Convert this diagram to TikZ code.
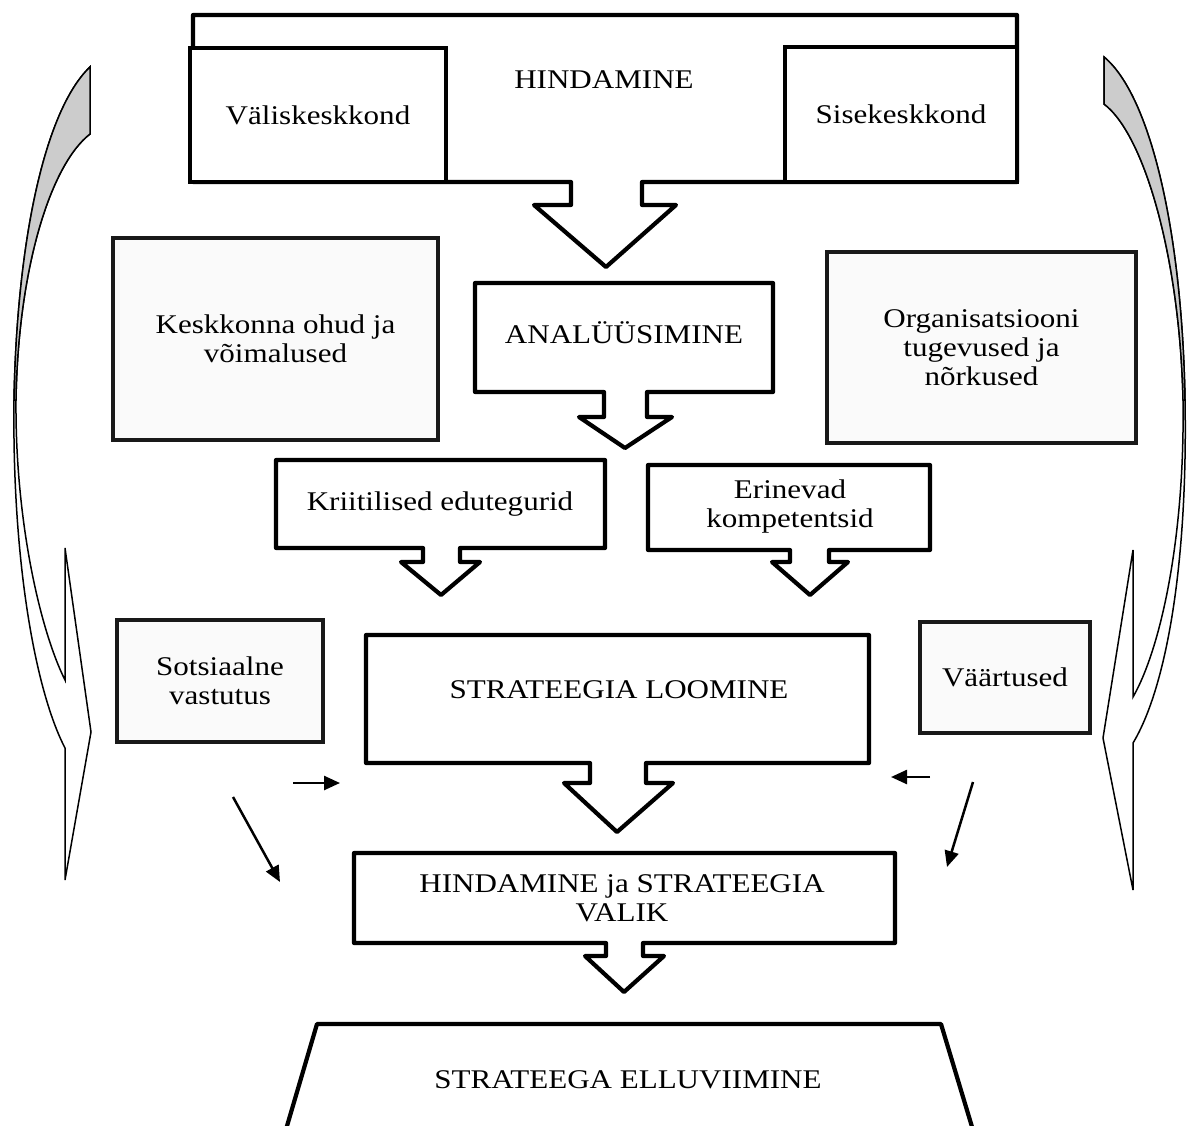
\documentclass[tikz,border=0pt]{standalone}
\usepackage{fontspec}
\setmainfont{Liberation Serif}[FakeStretch=1.15]
\usetikzlibrary{arrows.meta}
\begin{document}
\begin{tikzpicture}[x=1pt,y=-1pt,
  frame/.style={draw=black, line width=4.2pt, fill=white, line join=round},
  whitebox/.style={draw=black, line width=4.2pt, fill=white, align=center, inner sep=0pt,
    font=\fontsize{27}{29}\selectfont},
  softbox/.style={draw=black!90, line width=4.2pt, fill=black!2, align=center, inner sep=0pt,
    font=\fontsize{27}{29}\selectfont},
  lbl/.style={align=center, inner sep=0pt, font=\fontsize{27}{29}\selectfont},
  band/.style={draw=black, line width=1.5pt, fill=white, line join=miter},
  shade/.style={draw=black, line width=1.5pt, fill=black!20},
  pointer/.style={line width=2.5pt, -{Triangle[length=16pt,width=14pt]}}
]
\clip (0,0) rectangle (1194,1126);
\fill[white] (0,0) rectangle (1194,1126);

% ---------- left curved arrow ----------
\draw[band] (65,680) -- (65,548) -- (91,732) -- (65,880) -- (65,748)
  .. controls (35,690) and (12,560) .. (14,400)
  .. controls (17,240) and (45,110) .. (90,67)
  -- (90,134)
  .. controls (50,165) and (18,270) .. (16,400)
  .. controls (15,520) and (40,630) .. (65,680) -- cycle;
\draw[shade] (90,67) .. controls (45,110) and (17,240) .. (14,400)
  -- (16,400) .. controls (18,270) and (50,165) .. (90,134) -- cycle;

% ---------- right curved arrow ----------
\draw[band] (1133,697) -- (1133,550) -- (1103,738) -- (1133,890) -- (1133,743)
  .. controls (1165,690) and (1188,570) .. (1185,400)
  .. controls (1182,230) and (1150,95) .. (1104,57)
  -- (1104,104)
  .. controls (1145,135) and (1180,260) .. (1183,400)
  .. controls (1185,540) and (1160,650) .. (1133,697) -- cycle;
\draw[shade] (1104,57) .. controls (1150,95) and (1182,230) .. (1185,400)
  -- (1183,400) .. controls (1180,260) and (1145,135) .. (1104,104) -- cycle;

% ---------- HINDAMINE frame ----------
\draw[frame] (193,15) -- (1017,15) -- (1017,182) -- (642,182) -- (642,205) -- (676,205)
  -- (606,267) -- (534,205) -- (571,205) -- (571,182) -- (193,182) -- cycle;
\node[lbl] (hind) at (604,80) {HINDAMINE};
\node[whitebox, minimum width=256pt, minimum height=134pt] (valis) at (318,115) {Väliskeskkond};
\node[whitebox, minimum width=232pt, minimum height=135pt] (sise) at (901,114.5) {Sisekeskkond};

% ---------- side boxes ----------
\node[softbox, minimum width=325pt, minimum height=202pt] (kesk) at (275.5,339)
  {Keskkonna ohud ja\\võimalused};
\node[softbox, minimum width=309pt, minimum height=191pt] (org) at (981.5,347.5)
  {Organisatsiooni\\tugevused ja\\nõrkused};

% ---------- ANALÜÜSIMINE ----------
\draw[frame] (475,283) -- (773,283) -- (773,392) -- (647,392) -- (647,417) -- (672,417)
  -- (625,448) -- (579,417) -- (604,417) -- (604,392) -- (475,392) -- cycle;
\node[lbl] (ana) at (624,333) {ANALÜÜSIMINE};

% ---------- Kriitilised / Erinevad ----------
\draw[frame] (276,460) -- (605,460) -- (605,548) -- (460,548) -- (460,562) -- (480,562)
  -- (441,595) -- (401,562) -- (423,562) -- (423,548) -- (276,548) -- cycle;
\node[lbl] (krit) at (440,504) {Kriitilised edutegurid};
\draw[frame] (648,465) -- (930,465) -- (930,550) -- (829,550) -- (829,562) -- (848,562)
  -- (810,595) -- (772,562) -- (790,562) -- (790,550) -- (648,550) -- cycle;
\node[lbl] (erin) at (790,507) {Erinevad\\kompetentsid};

% ---------- Sotsiaalne / Väärtused ----------
\node[softbox, minimum width=206pt, minimum height=122pt] (sots) at (220,681)
  {Sotsiaalne\\vastutus};
\node[softbox, minimum width=170pt, minimum height=111pt] (vaar) at (1005,677.5) {Väärtused};

% ---------- STRATEEGIA LOOMINE ----------
\draw[frame] (366,635) -- (869,635) -- (869,763) -- (646,763) -- (646,783) -- (673,783)
  -- (617,832) -- (564,783) -- (590,783) -- (590,763) -- (366,763) -- cycle;
\node[lbl] (loom) at (619,690) {STRATEEGIA LOOMINE};

% ---------- HINDAMINE ja STRATEEGIA VALIK ----------
\draw[frame] (354,853) -- (895,853) -- (895,943) -- (643,943) -- (643,956) -- (664,956)
  -- (624,992) -- (585,956) -- (606,956) -- (606,943) -- (354,943) -- cycle;
\node[lbl] (valik) at (622,898) {HINDAMINE ja STRATEEGIA\\VALIK};

% ---------- STRATEEGA ELLUVIIMINE ----------
\draw[frame, fill=none] (277,1160) -- (317,1024) -- (941,1024) -- (982,1160);
\node[lbl] (ellu) at (628,1080) {STRATEEGA ELLUVIIMINE};

% ---------- small arrows ----------
\coordinate (la1) at (293,783); \coordinate (la2) at (340,783);
\coordinate (lb1) at (233,797); \coordinate (lb2) at (280,882);
\coordinate (ra1) at (930,777); \coordinate (ra2) at (891,777);
\coordinate (rb1) at (973,782); \coordinate (rb2) at (947,867);
\draw[pointer] (la1) -- (la2);
\draw[pointer] (lb1) -- (lb2);
\draw[pointer] (ra1) -- (ra2);
\draw[pointer] (rb1) -- (rb2);
\end{tikzpicture}
\end{document}
